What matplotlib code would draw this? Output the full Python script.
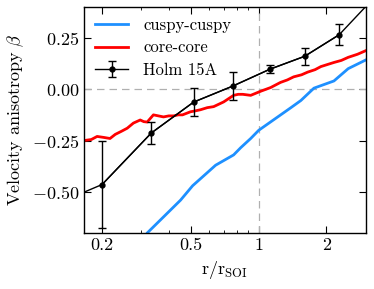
import numpy as np
import matplotlib
matplotlib.use("Agg")
import matplotlib.pyplot as plt
from matplotlib.ticker import FixedLocator, FixedFormatter, NullFormatter

plt.rcParams['font.family'] = 'serif'
plt.rcParams['font.serif'] = ['cmr10']
plt.rcParams['mathtext.fontset'] = 'cm'
plt.rcParams['axes.formatter.use_mathtext'] = True

# cuspy-cuspy model
cusp_r = [0.30, 0.319, 0.449, 0.508, 0.643, 0.773, 0.831, 0.921, 1.0, 1.39, 1.54, 1.76, 2.16, 2.50, 3.03]
cusp_beta = [-0.75, -0.70, -0.54, -0.47, -0.37, -0.32, -0.285, -0.24, -0.20, -0.09, -0.055, 0.005, 0.04, 0.10, 0.145]

# core-core model
core_r = [0.160, 0.167, 0.180, 0.191, 0.205, 0.218, 0.230, 0.245, 0.260, 0.277, 0.297, 0.308, 0.319,
          0.340, 0.358, 0.377, 0.398, 0.418, 0.438, 0.458, 0.497, 0.525, 0.551, 0.590, 0.630,
          0.698, 0.773, 0.810, 0.849, 0.921, 1.02, 1.13, 1.25, 1.34, 1.43, 1.55, 1.65,
          1.78, 1.89, 2.02, 2.16, 2.33, 2.50, 2.75, 3.03]
core_beta = [-0.25, -0.25, -0.245, -0.23, -0.235, -0.24, -0.22, -0.205, -0.19, -0.165, -0.15, -0.158, -0.16,
             -0.125, -0.13, -0.135, -0.13, -0.13, -0.125, -0.125, -0.11, -0.105, -0.10, -0.09, -0.085,
             -0.062, -0.03, -0.025, -0.025, -0.03, -0.01, 0.008, 0.033, 0.045, 0.06, 0.07, 0.083,
             0.095, 0.11, 0.12, 0.13, 0.14, 0.155, 0.17, 0.19]

# Holm 15A measurements
holm_r = [0.201, 0.333, 0.513, 0.766, 1.12, 1.60, 2.28]
holm_beta = [-0.464, -0.213, -0.063, 0.015, 0.097, 0.16, 0.265]
holm_err = [0.21, 0.053, 0.068, 0.07, 0.02, 0.04, 0.05]
# line through the measurements, continued to the plot edges
holm_line_r = [0.160, 0.201, 0.333, 0.513, 0.766, 1.12, 1.60, 2.28, 3.10]
holm_line_beta = [-0.51, -0.464, -0.213, -0.063, 0.015, 0.097, 0.16, 0.265, 0.42]

xticks = [0.2, 0.5, 1, 2]
xticklabels = ['0.2', '0.5', '1', '2']
yticks = [-0.5, -0.25, 0.0, 0.25]

fig = plt.figure(figsize=(3.74, 2.89), dpi=100)
ax = fig.add_axes([84/374, 1 - 233/289, (366-84)/374, (233-7)/289])

ax.axhline(0, color='#b0b0b0', ls='--', lw=0.9, dashes=(6, 4))
ax.axvline(1, color='#b0b0b0', ls='--', lw=0.9, dashes=(6, 4))

ax.plot(cusp_r, cusp_beta, color='#1e90ff', lw=2, label='cuspy-cuspy')
ax.plot(core_r, core_beta, color='red', lw=2, label='core-core')
ax.plot(holm_line_r, holm_line_beta, color='black', lw=1)
ax.errorbar(holm_r, holm_beta, yerr=holm_err, fmt='-o', color='black', ms=3.5, lw=1,
            elinewidth=1, capsize=3, label='Holm 15A')

ax.set_xscale('log')
ax.set_xlim(0.167, 3.0)
ax.set_ylim(-0.70, 0.40)
ax.xaxis.set_major_locator(FixedLocator(xticks))
ax.xaxis.set_major_formatter(FixedFormatter(xticklabels))
ax.xaxis.set_minor_formatter(NullFormatter())
ax.set_yticks(yticks)
ax.yaxis.set_major_formatter(matplotlib.ticker.FuncFormatter(lambda v, p: '$%.2f$' % v))

ax.tick_params(which='both', direction='in', top=True, right=True, labelsize=13)
ax.tick_params(which='major', length=5)
ax.tick_params(which='minor', length=2.5)
for s in ax.spines.values():
    s.set_linewidth(1)

ax.set_xlabel(r'$\mathrm{r/r_{SOI}}$', fontsize=13)
ax.set_ylabel(r'Velocity anisotropy $\beta$', fontsize=13)

ax.legend(loc='upper left', frameon=False, fontsize=12, handlelength=2.0,
          handletextpad=0.9, borderaxespad=0.1, borderpad=0.55, labelspacing=0.42)

fig.savefig('out.png', dpi=100)
